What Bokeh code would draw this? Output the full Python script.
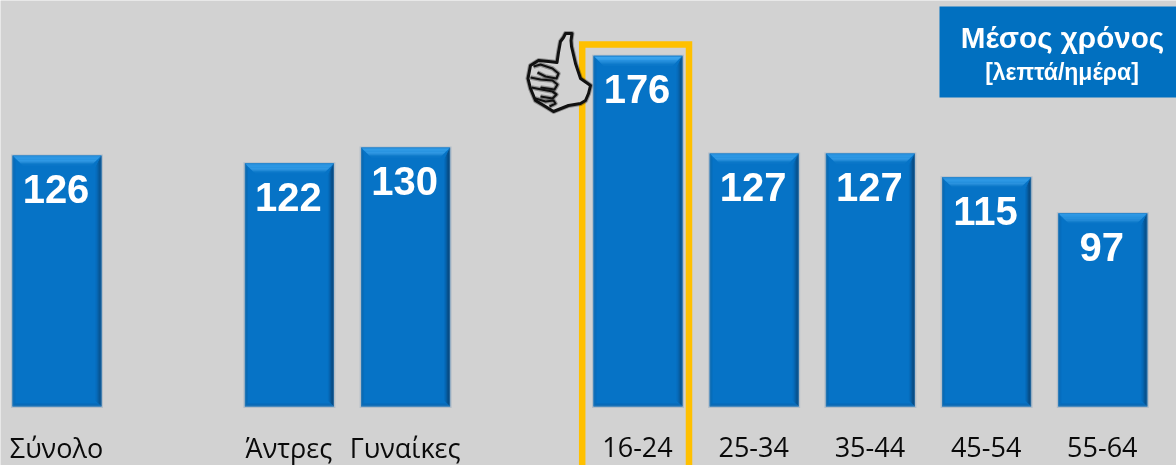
from bokeh.plotting import figure
from bokeh.models import Range1d
from bokeh.core.properties import value
from bokeh.embed import file_html
from bokeh.resources import INLINE

# ---- data
categories = ["Σύνολο", "Άντρες", "Γυναίκες", "16-24", "25-34", "35-44", "45-54", "55-64"]
slots = [0, 2, 3, 5, 6, 7, 8, 9]          # empty slots separate the three groups
values = [126, 122, 130, 176, 127, 127, 115, 97]
title_main = "Μέσος χρόνος"
title_sub = "[λεπτά/ημέρα]"
highlight = "16-24"

# ---- styling / layout
W, H = 1176, 465
BG = "#D2D2D2"
BLUE = "#0673C6"
BOX = "#0170C0"
GOLD = "#FFC000"
PX_PER_SLOT = 116.2
PX_PER_VAL = 1.993
BASE_PX = 406
LEFT_PX = 56.5
BAR_PX = 89

xs_per_px = 1 / PX_PER_SLOT
ys_per_px = 1 / PX_PER_VAL

p = figure(
    width=W, height=H, output_backend="svg", toolbar_location=None,
    x_range=Range1d(-LEFT_PX / PX_PER_SLOT, (W - LEFT_PX) / PX_PER_SLOT),
    y_range=Range1d((BASE_PX - H) / PX_PER_VAL, BASE_PX / PX_PER_VAL),
    min_border=0, background_fill_color=BG, border_fill_color=BG,
    outline_line_color=None,
)
p.axis.visible = False
p.grid.visible = False
# the figure fills the window as the reference does
p.styles = {"position": "fixed", "left": "0px", "top": "0px"}

# pixel space for decorations
p.extra_x_ranges["px"] = Range1d(0, W)
p.extra_y_ranges["px"] = Range1d(H, 0)
px = dict(x_range_name="px", y_range_name="px")

hw = BAR_PX / 2 * xs_per_px

# soft shadow
p.vbar(x=slots, top=[v + 1.0 * ys_per_px for v in values], bottom=-1.5 * ys_per_px,
       width=(BAR_PX + 3) * xs_per_px, fill_color="#B4BEC8", line_color=None)
# bar body
p.vbar(x=slots, top=values, bottom=0, width=BAR_PX * xs_per_px, fill_color=BLUE, line_color=None)


def bevels(side, colors, depth):
    """Stepped mitred bands on one edge of every bar."""
    n = len(colors)
    for k, col in enumerate(colors):
        d0, d1 = depth * k / n, depth * (k + 1) / n
        xs, ys = [], []
        for s, v in zip(slots, values):
            l, r = s - hw, s + hw
            dx0, dx1, dy0, dy1 = d0 * xs_per_px, d1 * xs_per_px, d0 * ys_per_px, d1 * ys_per_px
            if side == "top":
                xs.append([l + dx0, r - dx0, r - dx1, l + dx1])
                ys.append([v - dy0, v - dy0, v - dy1, v - dy1])
            elif side == "right":
                xs.append([r - dx0, r - dx1, r - dx1, r - dx0])
                ys.append([v - dy0 * 2, v - dy1 * 2, dy1, dy0])
            elif side == "left":
                xs.append([l + dx0, l + dx1, l + dx1, l + dx0])
                ys.append([v - dy0 * 2, v - dy1 * 2, dy1, dy0])
            else:
                xs.append([l + dx0, r - dx0, r - dx1, l + dx1])
                ys.append([dy0, dy0, dy1, dy1])
        p.patches(xs, ys, fill_color=col, line_color=None)


bevels("left", ["#2A78B4", "#0E6AB0", "#066DBD"], 3)
bevels("right", ["#2A6596", "#094A80", "#084E88", "#085A9C", "#0664AE", "#066CBC"], 6)
bevels("bottom", ["#3B7FB6", "#1169AE", "#0669B6"], 3)
bevels("top", ["#2A8AD2", "#3AA4EE", "#38A2EC", "#349EE8", "#2F98E4", "#2A92DE",
               "#2189D6", "#1580CE", "#0C78C9"], 10)

# highlight frame around the 16-24 group
hi = slots[categories.index(highlight)]
frame_l = hi - 55.8 * xs_per_px
frame_r = hi + 51.0 * xs_per_px
frame_t = (BASE_PX - 44) / PX_PER_VAL
frame_b = (BASE_PX - 490) / PX_PER_VAL
p.line([frame_l, frame_l, frame_r, frame_r], [frame_b, frame_t, frame_t, frame_b],
       line_color=GOLD, line_width=6.5, line_join="miter")

# value labels
p.text(x=[s - 1 * xs_per_px for s in slots], y=[v - 33.5 * ys_per_px for v in values],
       text=[str(v) for v in values],
       text_color="white", text_font=value("Liberation Sans"), text_font_style="bold",
       text_font_size="40px", text_align="center", text_baseline="middle")

# category labels
p.text(x=[s - 0.5 * xs_per_px for s in slots], y=[-40.5 * ys_per_px] * len(slots), text=categories,
       text_color="#0A0A0A", text_font=value("Open Sans"), text_font_size="27px",
       text_align="center", text_baseline="middle")

# title box
p.quad(left=[939], right=[1176], top=[6], bottom=[97], fill_color=BOX, line_color=None, **px)
p.text(x=[1062], y=[37], text=[title_main], text_color="white",
       text_font=value("Liberation Sans"), text_font_style="bold", text_font_size="29.6px",
       text_align="center", text_baseline="middle", **px)
p.text(x=[1061.5], y=[71], text=[title_sub], text_color="white",
       text_font=value("Liberation Sans"), text_font_style="bold", text_font_size="23px",
       text_align="center", text_baseline="middle", **px)

# thumbs-up sketch
hand_x = [556.5, 558, 560, 563, 565, 571.5, 570.5, 571, 575, 580, 590, 588, 585, 580, 568, 553, 545,
          535, 530, 527.5, 530, 538, 548, 556.5]
hand_y = [62, 52, 41, 37, 33, 33, 40, 46, 63, 78, 85, 93, 100, 103, 105, 111, 106,
          100, 88, 78, 65, 60, 61, 62]
p.patch(hand_x, hand_y, fill_color=BG, line_color="#000000", line_alpha=0.3, line_width=5,
        line_join="round", **px)
p.patch(hand_x, hand_y, fill_color=BG, line_color="#111111", line_width=3, line_join="round", **px)
fingers_x = [[533, 540, 552, 558, 556, 545, 537],
             [530, 540, 552, 557, 554, 540],
             [531, 541, 552, 556, 552, 540],
             [535, 545, 553, 555, 549]]
fingers_y = [[66, 64, 68, 73, 78, 76, 72],
             [77, 79, 80, 84, 89, 87],
             [87, 89, 91, 94, 98, 96],
             [98, 101, 100, 103, 106]]
p.multi_line(fingers_x, fingers_y, line_color="#000000", line_alpha=0.3, line_width=4.5,
             line_join="round", **px)
p.multi_line(fingers_x, fingers_y, line_color="#111111", line_width=2.2, line_join="round", **px)

open("out.html", "w").write(file_html(p, INLINE))
